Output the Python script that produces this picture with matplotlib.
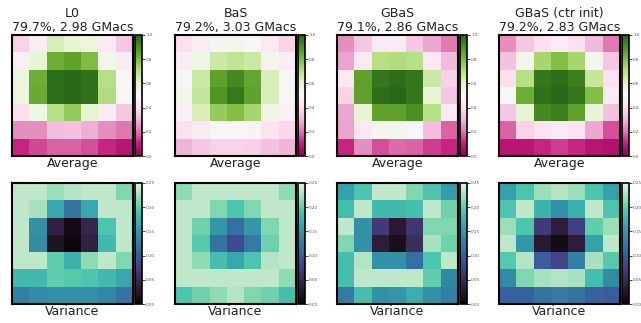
import numpy as np
import matplotlib
matplotlib.use("Agg")
import matplotlib.pyplot as plt
import seaborn as sns

names = ["L0", "BaS", "GBaS", "GBaS (ctr init)"]
accs = ["79.7%", "79.2%", "79.1%", "79.2%"]
macs = ["2.98", "3.03", "2.86", "2.83"]

avg_l0 = [
    [0.37, 0.46, 0.63, 0.59, 0.57, 0.44, 0.34],
    [0.47, 0.59, 0.83, 0.86, 0.80, 0.53, 0.45],
    [0.57, 0.83, 0.98, 0.99, 0.97, 0.70, 0.50],
    [0.57, 0.84, 0.98, 0.99, 0.97, 0.71, 0.50],
    [0.40, 0.54, 0.70, 0.76, 0.60, 0.45, 0.34],
    [0.24, 0.24, 0.32, 0.33, 0.29, 0.24, 0.20],
    [0.11, 0.15, 0.18, 0.18, 0.16, 0.11, 0.08],
]
avg_bas = [
    [0.40, 0.46, 0.51, 0.53, 0.50, 0.44, 0.37],
    [0.46, 0.54, 0.66, 0.68, 0.66, 0.53, 0.46],
    [0.50, 0.66, 0.86, 0.92, 0.85, 0.63, 0.50],
    [0.53, 0.67, 0.89, 0.95, 0.86, 0.63, 0.50],
    [0.47, 0.63, 0.76, 0.79, 0.73, 0.54, 0.47],
    [0.40, 0.45, 0.50, 0.50, 0.49, 0.42, 0.38],
    [0.30, 0.34, 0.37, 0.37, 0.36, 0.33, 0.30],
]
avg_gbas = [
    [0.24, 0.34, 0.44, 0.45, 0.34, 0.28, 0.21],
    [0.27, 0.45, 0.70, 0.71, 0.70, 0.44, 0.31],
    [0.44, 0.86, 0.96, 0.98, 0.96, 0.66, 0.37],
    [0.37, 0.86, 0.98, 0.99, 0.96, 0.60, 0.34],
    [0.28, 0.60, 0.86, 0.86, 0.90, 0.70, 0.44],
    [0.27, 0.44, 0.53, 0.53, 0.50, 0.32, 0.18],
    [0.11, 0.24, 0.16, 0.19, 0.18, 0.14, 0.11],
]
avg_ctr = [
    [0.24, 0.34, 0.40, 0.46, 0.40, 0.31, 0.21],
    [0.33, 0.53, 0.73, 0.79, 0.73, 0.53, 0.34],
    [0.40, 0.70, 0.96, 0.98, 0.94, 0.67, 0.40],
    [0.50, 0.83, 0.97, 0.99, 0.96, 0.79, 0.45],
    [0.34, 0.60, 0.92, 0.94, 0.86, 0.58, 0.33],
    [0.18, 0.37, 0.42, 0.45, 0.42, 0.28, 0.16],
    [0.08, 0.08, 0.11, 0.14, 0.11, 0.08, 0.07],
]

var_l0 = [
    [0.235, 0.235, 0.220, 0.230, 0.235, 0.235, 0.210],
    [0.235, 0.225, 0.165, 0.120, 0.165, 0.235, 0.235],
    [0.235, 0.145, 0.040, 0.010, 0.045, 0.190, 0.235],
    [0.235, 0.140, 0.020, 0.005, 0.040, 0.180, 0.235],
    [0.235, 0.235, 0.200, 0.175, 0.215, 0.235, 0.210],
    [0.180, 0.180, 0.200, 0.195, 0.190, 0.180, 0.165],
    [0.130, 0.140, 0.145, 0.145, 0.145, 0.135, 0.120],
]
var_bas = [
    [0.215, 0.235, 0.235, 0.235, 0.235, 0.235, 0.215],
    [0.235, 0.235, 0.210, 0.190, 0.210, 0.235, 0.235],
    [0.235, 0.205, 0.150, 0.115, 0.150, 0.210, 0.235],
    [0.235, 0.195, 0.120, 0.085, 0.125, 0.205, 0.235],
    [0.235, 0.215, 0.185, 0.165, 0.190, 0.230, 0.235],
    [0.235, 0.235, 0.235, 0.235, 0.235, 0.235, 0.215],
    [0.190, 0.205, 0.215, 0.230, 0.210, 0.205, 0.185],
]
var_gbas = [
    [0.160, 0.190, 0.235, 0.235, 0.210, 0.190, 0.155],
    [0.185, 0.235, 0.180, 0.180, 0.185, 0.235, 0.205],
    [0.235, 0.145, 0.070, 0.030, 0.065, 0.210, 0.210],
    [0.210, 0.145, 0.035, 0.015, 0.055, 0.225, 0.205],
    [0.185, 0.230, 0.145, 0.145, 0.115, 0.190, 0.235],
    [0.185, 0.235, 0.235, 0.235, 0.235, 0.200, 0.135],
    [0.125, 0.185, 0.145, 0.150, 0.170, 0.145, 0.130],
]
var_ctr = [
    [0.160, 0.190, 0.220, 0.230, 0.220, 0.190, 0.160],
    [0.190, 0.235, 0.175, 0.145, 0.170, 0.235, 0.190],
    [0.220, 0.190, 0.070, 0.035, 0.075, 0.200, 0.220],
    [0.235, 0.150, 0.030, 0.010, 0.035, 0.160, 0.235],
    [0.195, 0.230, 0.100, 0.080, 0.130, 0.225, 0.195],
    [0.140, 0.210, 0.225, 0.230, 0.225, 0.185, 0.140],
    [0.105, 0.105, 0.120, 0.125, 0.120, 0.105, 0.100],
]

averages = [avg_l0, avg_bas, avg_gbas, avg_ctr]
variances = [var_l0, var_bas, var_gbas, var_ctr]

W, H = 641, 323
fig = plt.figure(figsize=(W / 100, H / 100), dpi=100)
mako = sns.color_palette("mako", as_cmap=True)

lefts = [12, 175, 337, 499]
tops = [35, 183]
size = 121


def px_axes(x, y, w, h):
    return fig.add_axes([x / W, 1 - (y + h) / H, w / W, h / H])


for i in range(4):
    for r, (data, cmap, vmax, ticks, fmt, label) in enumerate([
        (averages[i], "PiYG", 1.0, np.arange(0, 1.01, 0.2), "%.1f", "Average"),
        (variances[i], mako, 0.25, np.arange(0, 0.251, 0.05), "%.2f", "Variance"),
    ]):
        ax = px_axes(lefts[i], tops[r], size, size)
        im = ax.imshow(np.array(data), cmap=cmap, vmin=0, vmax=vmax,
                       interpolation="nearest", aspect="auto")
        ax.set_xticks([])
        ax.set_yticks([])
        for s in ax.spines.values():
            s.set_linewidth(1.5)
        ax.set_xlabel(label, fontsize=9, labelpad=1, color="#222222")
        if r == 0:
            ax.set_title("%s\n%s, %s GMacs" % (names[i], accs[i], macs[i]),
                         fontsize=9, pad=3, color="#222222", linespacing=1.1)
        cax = px_axes(lefts[i] + size + 2, tops[r], 7, size)
        cb = fig.colorbar(im, cax=cax, ticks=ticks, format=fmt)
        cb.outline.set_linewidth(1.2)
        cb.ax.tick_params(labelsize=3, length=2, width=0.5, pad=1,
                          labelcolor="#555555")

fig.savefig("out.png", dpi=100)
